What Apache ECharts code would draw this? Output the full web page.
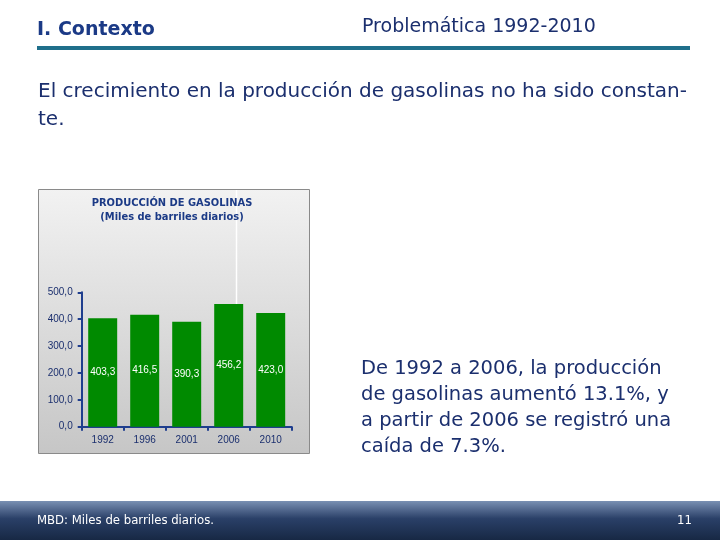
<!DOCTYPE html>
<html>
<head>
<meta charset="utf-8">
<script src="https://cdn.jsdelivr.net/npm/echarts@6/dist/echarts.min.js"></script>
<style>
  html, body { margin: 0; padding: 0; background: #ffffff; }
  #chart { width: 720px; height: 540px; }
</style>
</head>
<body>
<div id="chart"></div>
<script>
// datos del gráfico
const years = ['1992', '1996', '2001', '2006', '2010']
const produccion = [403.3, 416.5, 390.3, 456.2, 423.0]
const yTicks = [0, 100, 200, 300, 400, 500]

const titleLines = ['PRODUCCIÓN DE GASOLINAS', '(Miles de barriles diarios)']
const introLines = ['El crecimiento en la producción de gasolinas no ha sido constan-', 'te.']
const noteLines = [
  'De 1992 a 2006, la producción',
  'de gasolinas aumentó 13.1%, y',
  'a partir de 2006 se registró una',
  'caída de 7.3%.',
]

const navy = '#1b2f6e'
const sans = '"DejaVu Sans", sans-serif'
const cond = '"DejaVu Sans Condensed", sans-serif'

// formato con coma decimal
const fmt = (v) => v.toFixed(1).replace('.', ',')

const chart = echarts.init(document.getElementById('chart'))

const graphics = [
  // panel del gráfico
  {
    type: 'rect',
    z: -10,
    shape: { x: 38.5, y: 189.5, width: 271, height: 264 },
    style: {
      fill: {
        type: 'linear', x: 0, y: 0, x2: 0, y2: 1,
        colorStops: [
          { offset: 0, color: '#f2f2f2' },
          { offset: 1, color: '#c6c6c6' },
        ],
      },
      stroke: '#8a8a8a',
      lineWidth: 1,
    },
  },
  // línea blanca vertical
  {
    type: 'line',
    z: -5,
    shape: { x1: 236.5, y1: 190, x2: 236.5, y2: 304 },
    style: { stroke: '#ffffff', lineWidth: 1.5 },
  },
  // encabezado
  {
    type: 'text', x: 37, y: 30,
    style: { text: 'I. Contexto', font: 'bold 19px ' + sans, fill: '#1b3a86', verticalAlign: 'middle' },
  },
  {
    type: 'text', x: 362, y: 27,
    style: { text: 'Problemática 1992-2010', font: '19px ' + sans, fill: navy, verticalAlign: 'middle' },
  },
  {
    type: 'rect',
    shape: { x: 37, y: 46, width: 653, height: 4 },
    style: { fill: '#1f6f8b' },
  },
  // pie de página
  {
    type: 'rect',
    shape: { x: 0, y: 501, width: 720, height: 39 },
    style: {
      fill: {
        type: 'linear', x: 0, y: 0, x2: 0, y2: 1,
        colorStops: [
          { offset: 0, color: '#7990b3' },
          { offset: 0.45, color: '#2a4068' },
          { offset: 1, color: '#172844' },
        ],
      },
    },
  },
  {
    type: 'text', x: 37, y: 521,
    style: { text: 'MBD: Miles de barriles diarios.', font: '13px ' + cond, fill: '#ffffff', verticalAlign: 'middle' },
  },
  {
    type: 'text', x: 677, y: 521,
    style: { text: '11', font: '13px ' + cond, fill: '#ffffff', verticalAlign: 'middle' },
  },
]

titleLines.forEach((t, i) => {
  graphics.push({
    type: 'text', x: 172, y: 203 + i * 14,
    style: {
      text: t, font: 'bold 11px ' + cond, fill: '#1b3a86',
      align: 'center', verticalAlign: 'middle',
    },
  })
})

introLines.forEach((t, i) => {
  graphics.push({
    type: 'text', x: 38, y: 92 + i * 28,
    style: { text: t, font: '20px ' + sans, fill: navy, verticalAlign: 'middle' },
  })
})

noteLines.forEach((t, i) => {
  graphics.push({
    type: 'text', x: 361, y: 369 + i * 26,
    style: { text: t, font: '19.5px ' + sans, fill: navy, verticalAlign: 'middle' },
  })
})

const option = {
  backgroundColor: '#ffffff',
  animation: false,
  grid: {
    left: 81.7,
    right: 720 - 291.7,
    top: 292.3,
    bottom: 540 - 426.7,
    containLabel: false,
  },
  xAxis: {
    type: 'category',
    data: years,
    boundaryGap: true,
    axisLine: { lineStyle: { color: '#1f3e8e', width: 2 } },
    axisTick: { show: true, length: 4, lineStyle: { color: '#1f3e8e', width: 2 } },
    axisLabel: { color: navy, fontFamily: 'Liberation Sans, Arial', fontSize: 10, margin: 9 },
  },
  yAxis: {
    type: 'value',
    min: yTicks[0],
    max: yTicks[yTicks.length - 1],
    interval: 100,
    axisLine: { show: true, lineStyle: { color: '#1f3e8e', width: 2 } },
    axisTick: { show: true, length: 4, lineStyle: { color: '#1f3e8e', width: 2 } },
    axisLabel: {
      color: navy, fontFamily: 'Liberation Sans, Arial', fontSize: 10, margin: 9,
      formatter: (v) => fmt(v),
    },
    splitLine: { show: false },
  },
  series: [
    {
      type: 'bar',
      data: produccion,
      barWidth: '69%',
      itemStyle: { color: '#008a00' },
      label: {
        show: true,
        position: 'inside',
        color: '#ffffff',
        fontFamily: 'Liberation Sans, Arial',
        fontSize: 10,
        formatter: (p) => fmt(p.value),
      },
    },
  ],
  graphic: graphics,
}

chart.setOption(option)
</script>
</body>
</html>
